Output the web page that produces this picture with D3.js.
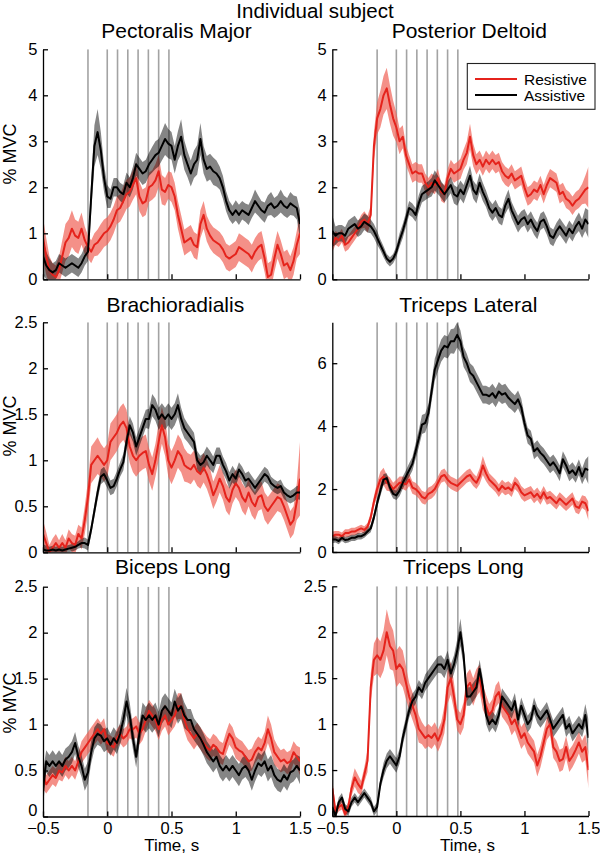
<!DOCTYPE html>
<html><head><meta charset="utf-8">
<script src="https://cdn.jsdelivr.net/npm/d3@7"></script>
<style>
body{margin:0;background:#fff}
svg{display:block}
text{font-family:"Liberation Sans",Arial,Helvetica,sans-serif;fill:#000}
</style>
</head><body>
<svg id="chart" width="600" height="853"></svg>
<script>
// ---------------- DATA ----------------
const figureTitle = "Individual subject";
const seriesNames = ["Resistive", "Assistive"];
const panelTitles = ["Pectoralis Major","Posterior Deltoid","Brachioradialis","Triceps Lateral","Biceps Long","Triceps Long"];
const yLabel = "% MVC";
const xLabel = "Time, s";
const xTicks = [-0.5, 0, 0.5, 1, 1.5];
const xTickLabels = ["\u22120.5","0","0.5","1","1.5"];
const eventTimes = [-0.15, 0, 0.08, 0.16, 0.24, 0.32, 0.40, 0.48];
const yMaxes = [5, 5, 2.5, 7.3, 2.5, 2.5];
const yTicksA = [0,1,2,3,4,5];
const yTicksB = [0,0.5,1,1.5,2,2.5];
const yTicksC = [0,2,4,6];
const yTickLabelsA = ["0","1","2","3","4","5"];
const yTickLabelsB = ["0","0.5","1","1.5","2","2.5"];
const yTickLabelsC = ["0","2","4","6"];

const sampleTimes = [-0.5,-0.475,-0.45,-0.425,-0.4,-0.375,-0.35,-0.325,-0.3,-0.275,
 -0.25,-0.225,-0.2,-0.175,-0.15,-0.125,-0.1,-0.075,-0.05,-0.025,
 0,0.025,0.05,0.075,0.1,0.125,0.15,0.175,0.2,0.225,
 0.25,0.275,0.3,0.325,0.35,0.375,0.4,0.425,0.45,0.475,
 0.5,0.525,0.55,0.575,0.6,0.625,0.65,0.675,0.7,0.725,
 0.75,0.775,0.8,0.825,0.85,0.875,0.9,0.925,0.95,0.975,
 1,1.025,1.05,1.075,1.1,1.125,1.15,1.175,1.2,1.225,
 1.25,1.275,1.3,1.325,1.35,1.375,1.4,1.425,1.45,1.475,1.5];

// Pectoralis Major
const pectRes = [0.9,0.5,0.2,0.1,0.05,0.2,0.5,0.8,0.9,1.1,
 0.95,0.9,1.1,0.85,0.7,0.6,0.75,0.8,0.9,1.0,
 1.05,1.15,1.3,1.5,1.55,1.7,1.85,1.9,2.05,2.2,
 1.8,1.65,1.7,2.0,2.05,2.15,2.35,1.95,1.9,2.05,
 2.0,1.8,1.4,1.1,0.8,0.85,0.9,0.75,0.7,1.2,
 1.4,1.1,0.95,0.85,0.8,0.75,0.65,0.5,0.45,0.5,
 0.55,0.7,0.65,0.6,0.55,0.45,0.6,0.7,0.75,0.45,
 0.05,0.1,0.45,0.75,0.55,0.3,0.35,0.2,0.4,0.75,1.0];
const pectResErr = [0.45,0.4,0.3,0.25,0.25,0.3,0.35,0.4,0.4,0.4,
 0.35,0.35,0.35,0.3,0.25,0.25,0.25,0.28,0.3,0.3,
 0.3,0.3,0.3,0.3,0.3,0.32,0.32,0.32,0.32,0.35,
 0.32,0.3,0.3,0.32,0.32,0.35,0.35,0.32,0.3,0.3,
 0.32,0.3,0.3,0.3,0.28,0.28,0.28,0.28,0.28,0.3,
 0.3,0.28,0.28,0.28,0.28,0.28,0.28,0.28,0.28,0.28,
 0.28,0.3,0.3,0.3,0.3,0.3,0.3,0.3,0.3,0.3,
 0.3,0.3,0.3,0.3,0.3,0.3,0.3,0.3,0.3,0.3,0.45];
const pectAss = [0.5,0.3,0.2,0.15,0.2,0.35,0.3,0.25,0.3,0.35,
 0.3,0.25,0.35,0.5,0.6,1.8,2.9,3.2,2.8,2.2,
 1.8,1.75,2.0,2.0,1.9,1.85,2.1,2.0,2.2,2.5,
 2.4,2.3,2.35,2.5,2.6,2.7,2.75,2.9,3.05,2.95,
 2.9,2.6,2.9,3.1,2.7,2.5,2.3,2.5,2.6,3.05,
 2.6,2.4,2.45,2.35,2.3,2.2,2.0,1.7,1.5,1.4,
 1.5,1.4,1.5,1.45,1.4,1.55,1.7,1.6,1.5,1.45,
 1.6,1.65,1.55,1.6,1.7,1.6,1.55,1.65,1.6,1.55,1.2];
const pectAssErr = [0.4,0.3,0.25,0.2,0.2,0.2,0.2,0.2,0.2,0.2,
 0.2,0.2,0.2,0.2,0.2,0.35,0.45,0.5,0.4,0.3,
 0.25,0.2,0.2,0.2,0.2,0.2,0.22,0.22,0.25,0.25,
 0.25,0.25,0.25,0.25,0.28,0.3,0.3,0.32,0.35,0.32,
 0.3,0.3,0.32,0.38,0.32,0.28,0.28,0.3,0.32,0.35,
 0.3,0.28,0.28,0.3,0.28,0.25,0.25,0.22,0.2,0.2,
 0.22,0.22,0.2,0.2,0.22,0.22,0.25,0.22,0.2,0.22,
 0.22,0.25,0.22,0.22,0.25,0.22,0.22,0.25,0.22,0.25,0.3];

// Posterior Deltoid
const deltRes = [0.75,0.9,0.85,0.95,0.75,0.8,0.9,1.0,1.1,1.25,
 1.3,1.2,1.4,2.9,3.5,3.7,4.0,4.15,3.8,3.5,
 3.3,3.0,3.1,2.7,2.5,2.3,2.35,2.3,2.3,2.1,
 2.0,2.1,2.05,2.2,1.9,1.85,2.2,2.4,2.3,2.35,
 2.4,2.6,2.75,3.1,2.7,2.5,2.6,2.45,2.6,2.5,
 2.6,2.5,2.55,2.35,2.25,2.2,2.3,2.15,2.2,2.25,
 2.0,1.8,1.85,1.95,1.9,2.05,1.85,2.05,2.2,2.15,
 2.1,1.85,1.9,1.75,1.7,1.6,1.7,1.75,1.85,1.95,2.0];
const deltResErr = [0.15,0.15,0.15,0.15,0.15,0.15,0.15,0.15,0.15,0.15,
 0.18,0.18,0.2,0.3,0.35,0.4,0.42,0.45,0.42,0.38,
 0.32,0.28,0.25,0.22,0.2,0.2,0.2,0.2,0.2,0.2,
 0.2,0.2,0.2,0.2,0.2,0.2,0.2,0.2,0.2,0.2,
 0.22,0.22,0.25,0.28,0.25,0.22,0.2,0.2,0.2,0.2,
 0.2,0.2,0.2,0.2,0.2,0.2,0.2,0.2,0.2,0.2,
 0.2,0.2,0.2,0.2,0.2,0.2,0.2,0.2,0.2,0.2,
 0.2,0.2,0.2,0.2,0.2,0.2,0.2,0.2,0.22,0.3,0.45];
const deltAss = [1.05,0.95,1.0,1.0,0.95,1.1,1.15,1.2,1.1,1.15,
 1.25,1.2,1.15,1.05,0.9,0.75,0.6,0.45,0.38,0.45,
 0.6,0.85,1.05,1.3,1.55,1.5,1.4,1.65,1.85,1.9,
 1.95,2.0,2.15,2.05,1.95,1.85,1.95,2.05,1.85,1.8,
 1.95,1.85,2.05,2.25,1.95,1.85,2.1,1.9,1.75,1.55,
 1.45,1.55,1.4,1.35,1.6,1.75,1.5,1.35,1.2,1.3,
 1.35,1.2,1.3,1.15,1.05,1.25,1.3,1.15,0.95,0.9,
 1.05,1.15,1.05,0.95,1.1,1.0,1.15,1.25,1.1,1.3,1.2];
const deltAssErr = [0.35,0.2,0.18,0.18,0.18,0.18,0.18,0.18,0.18,0.18,
 0.18,0.18,0.15,0.15,0.15,0.12,0.12,0.1,0.1,0.1,
 0.12,0.15,0.15,0.15,0.15,0.15,0.15,0.18,0.18,0.18,
 0.18,0.2,0.22,0.2,0.18,0.18,0.18,0.18,0.2,0.2,
 0.2,0.2,0.2,0.22,0.2,0.2,0.2,0.2,0.18,0.18,
 0.18,0.18,0.18,0.18,0.18,0.2,0.18,0.18,0.18,0.18,
 0.18,0.18,0.18,0.18,0.18,0.18,0.18,0.18,0.18,0.18,
 0.18,0.18,0.18,0.18,0.18,0.18,0.18,0.2,0.2,0.25,0.3];

// Brachioradialis
const brachRes = [0.2,0.1,0.0,0.05,0.1,0.05,0.1,0.05,0.15,0.1,
 0.08,0.2,0.15,0.35,0.6,0.95,1.0,1.05,1.0,0.95,
 1.0,1.2,1.25,1.3,1.38,1.42,1.35,1.15,1.05,1.0,
 1.05,1.08,1.1,0.95,0.85,1.0,1.2,1.38,1.25,1.0,
 0.92,1.0,1.1,1.05,0.95,0.92,0.9,0.95,0.88,0.85,
 0.92,0.85,0.75,0.62,0.7,0.8,0.72,0.6,0.55,0.68,
 0.75,0.7,0.6,0.55,0.65,0.55,0.5,0.6,0.62,0.5,
 0.45,0.5,0.55,0.6,0.58,0.5,0.4,0.3,0.35,0.55,0.8];
const brachResErr = [0.15,0.12,0.08,0.1,0.1,0.08,0.1,0.08,0.1,0.1,
 0.1,0.1,0.12,0.15,0.18,0.2,0.2,0.2,0.18,0.18,
 0.18,0.2,0.2,0.2,0.2,0.2,0.2,0.18,0.18,0.18,
 0.18,0.18,0.18,0.18,0.18,0.18,0.2,0.2,0.2,0.18,
 0.18,0.18,0.18,0.18,0.18,0.16,0.16,0.16,0.16,0.16,
 0.16,0.16,0.16,0.15,0.15,0.15,0.15,0.15,0.15,0.15,
 0.15,0.15,0.15,0.15,0.15,0.15,0.15,0.15,0.15,0.15,
 0.15,0.15,0.15,0.15,0.15,0.15,0.15,0.15,0.15,0.2,0.4];
const brachAss = [0.03,0.02,0.02,0.03,0.02,0.03,0.02,0.03,0.04,0.05,
 0.06,0.08,0.1,0.1,0.08,0.25,0.45,0.65,0.82,0.85,
 0.78,0.7,0.72,0.8,0.9,0.98,1.2,1.38,1.3,1.15,
 1.25,1.35,1.45,1.45,1.6,1.55,1.45,1.5,1.45,1.5,
 1.45,1.5,1.6,1.45,1.35,1.3,1.25,1.2,1.0,0.95,
 0.98,1.05,1.0,0.95,1.05,1.05,0.95,0.88,0.78,0.85,
 0.8,0.9,0.85,0.78,0.8,0.75,0.7,0.75,0.8,0.85,
 0.82,0.75,0.72,0.7,0.72,0.65,0.62,0.6,0.62,0.65,0.65];
const brachAssErr = [0.06,0.05,0.04,0.04,0.04,0.04,0.04,0.04,0.04,0.04,
 0.04,0.04,0.05,0.06,0.06,0.06,0.07,0.08,0.08,0.08,
 0.08,0.08,0.08,0.08,0.08,0.09,0.1,0.1,0.1,0.1,
 0.1,0.1,0.1,0.11,0.12,0.12,0.12,0.12,0.12,0.12,
 0.12,0.12,0.13,0.12,0.11,0.1,0.1,0.1,0.1,0.1,
 0.1,0.1,0.1,0.09,0.09,0.09,0.09,0.09,0.09,0.09,
 0.08,0.08,0.08,0.08,0.08,0.08,0.08,0.08,0.08,0.08,
 0.08,0.07,0.07,0.07,0.07,0.07,0.07,0.07,0.07,0.07,0.08];

// Triceps Lateral
const trilatRes = [0.5,0.55,0.55,0.5,0.6,0.6,0.65,0.65,0.7,0.75,
 0.7,0.8,1.1,1.6,2.0,2.3,2.4,2.2,2.15,2.0,
 2.1,2.2,2.2,2.15,2.3,2.05,2.0,1.9,1.75,1.7,
 1.85,1.9,2.0,2.2,2.4,2.45,2.3,2.2,2.15,2.1,
 2.2,2.3,2.4,2.45,2.3,2.2,2.4,2.75,2.5,2.3,
 2.2,2.1,1.95,2.1,2.0,2.05,1.95,2.2,2.1,1.9,
 1.8,1.85,1.9,1.75,1.85,1.7,1.9,1.7,1.75,1.65,
 1.55,1.7,1.6,1.5,1.6,1.7,1.45,1.4,1.6,1.55,1.3];
const trilatResErr = [0.15,0.12,0.12,0.12,0.12,0.12,0.12,0.12,0.12,0.12,
 0.12,0.12,0.15,0.18,0.22,0.25,0.28,0.25,0.22,0.2,
 0.2,0.2,0.2,0.2,0.2,0.2,0.2,0.2,0.2,0.2,
 0.2,0.2,0.2,0.2,0.2,0.2,0.2,0.2,0.2,0.2,
 0.2,0.2,0.2,0.2,0.2,0.2,0.25,0.3,0.25,0.2,
 0.2,0.2,0.2,0.2,0.2,0.2,0.2,0.2,0.2,0.2,
 0.2,0.2,0.2,0.2,0.2,0.2,0.2,0.2,0.2,0.2,
 0.2,0.2,0.2,0.2,0.2,0.2,0.2,0.2,0.2,0.22,0.3];
const trilatAss = [0.4,0.4,0.35,0.45,0.38,0.4,0.45,0.45,0.5,0.5,
 0.55,0.65,0.75,1.1,1.55,1.95,2.3,2.35,2.05,1.85,
 1.8,1.95,2.2,2.4,2.6,2.8,3.2,3.6,4.05,4.1,
 4.4,5.1,5.8,6.1,6.4,6.55,6.5,6.7,6.7,6.9,
 6.7,6.2,6.0,5.7,5.6,5.4,5.2,5.0,5.0,4.95,
 5.05,4.9,5.1,5.0,5.05,4.9,4.8,4.7,4.85,4.6,
 4.1,3.7,3.6,3.2,3.3,3.15,3.05,2.9,2.75,2.85,
 2.7,2.5,2.95,2.75,2.5,2.6,2.45,2.7,2.4,2.65,2.6];
const trilatAssErr = [0.12,0.1,0.1,0.1,0.1,0.1,0.1,0.1,0.1,0.1,
 0.1,0.1,0.12,0.15,0.15,0.18,0.18,0.15,0.15,0.15,
 0.15,0.18,0.2,0.2,0.22,0.22,0.25,0.28,0.3,0.3,
 0.3,0.32,0.35,0.35,0.35,0.35,0.35,0.38,0.4,0.4,
 0.35,0.32,0.3,0.3,0.3,0.3,0.3,0.28,0.28,0.28,
 0.3,0.3,0.3,0.3,0.3,0.3,0.28,0.28,0.28,0.28,
 0.25,0.25,0.25,0.25,0.25,0.25,0.25,0.25,0.25,0.25,
 0.25,0.25,0.25,0.25,0.25,0.25,0.25,0.25,0.25,0.28,0.45];

// Biceps Long
const bicRes = [0.45,0.35,0.4,0.45,0.42,0.5,0.48,0.55,0.5,0.55,
 0.5,0.6,0.7,0.75,0.8,0.85,0.9,0.95,0.9,0.95,
 0.8,0.78,0.75,0.85,0.9,0.85,0.88,0.95,0.95,0.98,
 0.9,0.95,1.05,1.15,1.1,1.05,0.95,1.05,1.1,1.0,
 1.05,1.1,1.2,1.2,1.05,0.95,0.9,0.85,0.9,0.85,
 0.8,0.75,0.72,0.78,0.75,0.7,0.68,0.8,0.9,0.85,
 0.75,0.72,0.7,0.65,0.6,0.62,0.7,0.75,0.72,0.8,
 0.95,0.85,0.7,0.65,0.6,0.62,0.58,0.6,0.7,0.65,0.6];
const bicResErr = [0.15,0.1,0.1,0.1,0.1,0.1,0.1,0.1,0.1,0.1,
 0.1,0.1,0.12,0.12,0.12,0.12,0.12,0.12,0.12,0.12,
 0.1,0.1,0.1,0.1,0.1,0.1,0.1,0.1,0.12,0.12,
 0.12,0.12,0.12,0.12,0.12,0.12,0.12,0.12,0.12,0.12,
 0.12,0.12,0.14,0.14,0.12,0.12,0.12,0.12,0.12,0.12,
 0.12,0.12,0.12,0.12,0.12,0.12,0.12,0.12,0.12,0.12,
 0.12,0.12,0.12,0.12,0.12,0.12,0.12,0.12,0.12,0.12,
 0.15,0.15,0.14,0.12,0.12,0.12,0.12,0.12,0.12,0.12,0.15];
const bicAss = [0.3,0.6,0.55,0.6,0.55,0.6,0.55,0.62,0.65,0.7,
 0.8,0.65,0.55,0.4,0.48,0.7,0.85,0.9,0.88,0.82,
 0.85,0.78,0.85,0.8,0.9,1.05,1.25,1.1,0.85,0.65,
 0.9,1.1,1.05,1.1,1.05,1.1,1.0,1.15,1.2,1.15,
 1.1,1.25,1.15,1.2,1.1,1.05,1.05,0.95,0.9,0.85,
 0.78,0.7,0.65,0.6,0.65,0.55,0.5,0.55,0.5,0.55,
 0.5,0.45,0.52,0.55,0.5,0.4,0.5,0.58,0.55,0.6,
 0.5,0.55,0.45,0.4,0.38,0.45,0.4,0.48,0.5,0.55,0.5];
const bicAssErr = [0.2,0.12,0.12,0.12,0.12,0.12,0.12,0.12,0.12,0.12,
 0.12,0.12,0.12,0.12,0.12,0.12,0.12,0.12,0.12,0.12,
 0.12,0.12,0.12,0.12,0.12,0.14,0.15,0.14,0.12,0.12,
 0.12,0.14,0.14,0.14,0.14,0.14,0.14,0.14,0.14,0.14,
 0.14,0.14,0.14,0.14,0.14,0.12,0.12,0.12,0.12,0.12,
 0.12,0.12,0.12,0.12,0.12,0.12,0.12,0.12,0.12,0.12,
 0.12,0.12,0.12,0.12,0.12,0.12,0.12,0.12,0.12,0.12,
 0.12,0.12,0.12,0.12,0.12,0.12,0.12,0.12,0.12,0.12,0.15];

// Triceps Long
const trilongRes = [0.3,0.05,0.1,0.12,0.02,0.1,0.3,0.42,0.35,0.3,
 0.45,0.6,1.4,1.7,1.75,1.7,1.8,2.0,1.85,1.8,
 1.6,1.65,1.6,1.45,1.3,1.2,1.1,0.95,0.9,0.85,
 0.88,0.85,0.9,0.82,0.9,1.05,1.4,1.5,1.3,1.05,
 1.0,1.1,1.4,1.45,1.35,1.45,1.5,1.3,1.2,1.1,
 1.15,1.3,1.35,1.2,1.15,1.1,1.0,1.05,0.95,0.85,
 0.9,0.8,0.75,0.7,0.55,0.65,0.8,0.95,1.0,0.75,
 0.7,0.6,0.62,0.75,0.6,0.65,0.72,0.8,0.7,0.75,0.5];
const trilongResErr = [0.1,0.05,0.05,0.05,0.05,0.06,0.08,0.1,0.1,0.08,
 0.08,0.12,0.15,0.18,0.2,0.2,0.22,0.25,0.25,0.22,
 0.2,0.2,0.2,0.18,0.15,0.15,0.15,0.15,0.12,0.12,
 0.12,0.12,0.12,0.12,0.12,0.15,0.18,0.18,0.15,0.12,
 0.12,0.14,0.15,0.15,0.15,0.15,0.15,0.14,0.12,0.12,
 0.12,0.12,0.12,0.12,0.12,0.12,0.12,0.12,0.12,0.12,
 0.12,0.12,0.12,0.12,0.12,0.12,0.12,0.12,0.12,0.12,
 0.12,0.12,0.12,0.12,0.12,0.12,0.12,0.12,0.12,0.14,0.2];
const trilongAss = [0.1,0.0,0.15,0.2,0.08,0.05,0.15,0.2,0.15,0.2,
 0.25,0.2,0.15,0.05,0.1,0.35,0.5,0.6,0.65,0.6,
 0.55,0.65,0.85,1.0,1.15,1.25,1.3,1.4,1.35,1.45,
 1.5,1.55,1.6,1.65,1.65,1.6,1.7,1.55,1.65,1.8,
 2.0,1.75,1.3,1.3,1.35,1.4,1.6,1.4,1.1,1.0,
 1.05,1.0,1.1,1.3,1.25,1.2,1.15,1.25,1.05,1.2,
 1.1,1.0,1.05,1.2,1.1,1.05,1.1,1.15,1.05,0.95,
 1.0,1.05,1.1,0.95,1.0,0.9,0.95,1.0,0.95,1.1,0.85];
const trilongAssErr = [0.08,0.05,0.05,0.05,0.05,0.05,0.05,0.05,0.05,0.05,
 0.05,0.05,0.05,0.05,0.05,0.06,0.08,0.08,0.08,0.08,
 0.08,0.08,0.08,0.08,0.08,0.08,0.08,0.08,0.08,0.09,
 0.09,0.09,0.09,0.09,0.1,0.1,0.1,0.1,0.1,0.12,
 0.15,0.12,0.1,0.1,0.1,0.1,0.1,0.1,0.1,0.09,
 0.09,0.09,0.09,0.09,0.09,0.09,0.09,0.09,0.09,0.09,
 0.09,0.09,0.09,0.09,0.09,0.09,0.09,0.09,0.09,0.09,
 0.09,0.09,0.09,0.09,0.09,0.09,0.09,0.09,0.09,0.12,0.2];

// ---------------- LAYOUT / STYLE ----------------
const W = 600, H = 853;
const FONT = '"Liberation Sans",Arial,Helvetica,sans-serif';
const redLine = "#e5231c", redBand = "#ef5b50", blackLine = "#000";
const panels = [
 {res:pectRes, resErr:pectResErr, ass:pectAss, assErr:pectAssErr, yTicks:yTicksA, yTickLabels:yTickLabelsA,
  x0:43, x1:300, y0:49.3, y1:279.3, tx:176.5, ty:37.6, ylab:154, xlab:false},
 {res:deltRes, resErr:deltResErr, ass:deltAss, assErr:deltAssErr, yTicks:yTicksA, yTickLabels:yTickLabelsA,
  x0:332.3, x1:588.5, y0:49.3, y1:279.3, tx:469.3, ty:37.6, ylab:null, xlab:false, legend:true},
 {res:brachRes, resErr:brachResErr, ass:brachAss, assErr:brachAssErr, yTicks:yTicksB, yTickLabels:yTickLabelsB,
  x0:43, x1:300, y0:322.3, y1:552.3, tx:175.3, ty:311.5, ylab:426, xlab:false},
 {res:trilatRes, resErr:trilatResErr, ass:trilatAss, assErr:trilatAssErr, yTicks:yTicksC, yTickLabels:yTickLabelsC,
  x0:332.3, x1:588.5, y0:322.3, y1:552, tx:468.3, ty:311.5, ylab:null, xlab:false},
 {res:bicRes, resErr:bicResErr, ass:bicAss, assErr:bicAssErr, yTicks:yTicksB, yTickLabels:yTickLabelsB,
  x0:43, x1:300, y0:586.7, y1:816.5, tx:172.8, ty:573.5, ylab:703, xlab:true, xlabX:171.7},
 {res:trilongRes, resErr:trilongResErr, ass:trilongAss, assErr:trilongAssErr, yTicks:yTicksB, yTickLabels:yTickLabelsB,
  x0:332.3, x1:588.5, y0:586.3, y1:816, tx:463.3, ty:573.5, ylab:null, xlab:true, xlabX:467.5}
];

// sanity check
panels.forEach((p,i)=>{
  [p.res,p.resErr,p.ass,p.assErr].forEach((a,j)=>{
    if (a.length !== sampleTimes.length) throw new Error("panel "+i+" series "+j+" length "+a.length);
  });
});

const svg = d3.select("#chart");
svg.append("rect").attr("width",W).attr("height",H).attr("fill","#fff");

svg.append("text").attr("x",315).attr("y",17.5).attr("text-anchor","middle")
  .attr("font-size",20.5).attr("font-family",FONT).text(figureTitle);

panels.forEach((p, pi) => {
  const x = d3.scaleLinear().domain([-0.5,1.5]).range([p.x0,p.x1]);
  const y = d3.scaleLinear().domain([0,yMaxes[pi]]).range([p.y1,p.y0]);
  const g = svg.append("g");
  const clipId = "clip"+pi;
  svg.append("clipPath").attr("id",clipId).append("rect")
    .attr("x",p.x0).attr("y",p.y0).attr("width",p.x1-p.x0).attr("height",p.y1-p.y0);
  const plot = g.append("g").attr("clip-path","url(#"+clipId+")");

  // event lines
  plot.selectAll("line.ev").data(eventTimes).join("line")
    .attr("x1",d=>x(d)).attr("x2",d=>x(d)).attr("y1",y(0)).attr("y2",y(yMaxes[pi]))
    .attr("stroke","#a3a3a3").attr("stroke-width",1.6);

  const rows = (m,e)=>sampleTimes.map((t,i)=>({t, m:m[i], e:e[i]}));
  const area = d3.area().x(d=>x(d.t)).y0(d=>y(d.m-d.e)).y1(d=>y(d.m+d.e));
  const line = d3.line().x(d=>x(d.t)).y(d=>y(d.m));
  const rRes = rows(p.res,p.resErr), rAss = rows(p.ass,p.assErr);

  plot.append("path").attr("d",area(rRes)).attr("fill",redBand).attr("fill-opacity",0.68);
  plot.append("path").attr("d",area(rAss)).attr("fill","#000").attr("fill-opacity",0.48);
  plot.append("path").attr("d",line(rRes)).attr("fill","none").attr("stroke",redLine).attr("stroke-width",2).attr("stroke-linejoin","round");
  plot.append("path").attr("d",line(rAss)).attr("fill","none").attr("stroke",blackLine).attr("stroke-width",2).attr("stroke-linejoin","round");

  // axes
  const yAxis = d3.axisLeft(y).tickValues(p.yTicks).tickSize(-5).tickSizeOuter(0).tickPadding(5.5)
    .tickFormat((d,i)=>p.yTickLabels[i]);
  const ya = g.append("g").attr("transform","translate("+p.x0+",0)").call(yAxis);
  const xAxis = d3.axisBottom(x).tickValues(xTicks).tickSize(-5).tickSizeOuter(0).tickPadding(6)
    .tickFormat((d,i)=>p.xlab ? xTickLabels[i] : "");
  const xa = g.append("g").attr("transform","translate(0,"+p.y1+")").call(xAxis);
  [ya,xa].forEach(a=>{
    a.attr("font-size",16.5).attr("font-family",FONT);
    a.selectAll("path,line").attr("stroke","#000").attr("stroke-width",1.3);
    a.selectAll("text").attr("fill","#000");
  });
  // bottom row: lift the y "0" label slightly so it clears the x tick label below it
  if (p.xlab) {
    ya.selectAll(".tick").filter(d=>d===0).select("text").attr("dy","-0.05em");
  }

  // titles
  svg.append("text").attr("x",p.tx).attr("y",p.ty).attr("text-anchor","middle")
    .attr("font-size",21).attr("font-family",FONT).text(panelTitles[pi]);
  if (p.ylab !== null) {
    svg.append("text").attr("transform","translate(15.5,"+p.ylab+") rotate(-90)")
      .attr("text-anchor","middle").attr("font-size",18).attr("font-family",FONT).text(yLabel);
  }
  if (p.xlab) {
    svg.append("text").attr("x",p.xlabX).attr("y",850.5).attr("text-anchor","middle")
      .attr("font-size",17).attr("font-family",FONT).text(xLabel);
  }
  if (p.legend) {
    const lg = svg.append("g");
    lg.append("rect").attr("x",467.3).attr("y",63.5).attr("width",127.7).attr("height",45.8)
      .attr("fill","#fff").attr("stroke","#222").attr("stroke-width",1.1);
    const cols = [redLine, blackLine];
    seriesNames.forEach((n,k)=>{
      const yy = 79 + k*16;
      lg.append("line").attr("x1",475).attr("x2",517).attr("y1",yy).attr("y2",yy)
        .attr("stroke",cols[k]).attr("stroke-width",2);
      lg.append("text").attr("x",524).attr("y",yy+6).attr("font-size",15.5)
        .attr("font-family",FONT).text(n);
    });
  }
});
</script>
</body></html>
